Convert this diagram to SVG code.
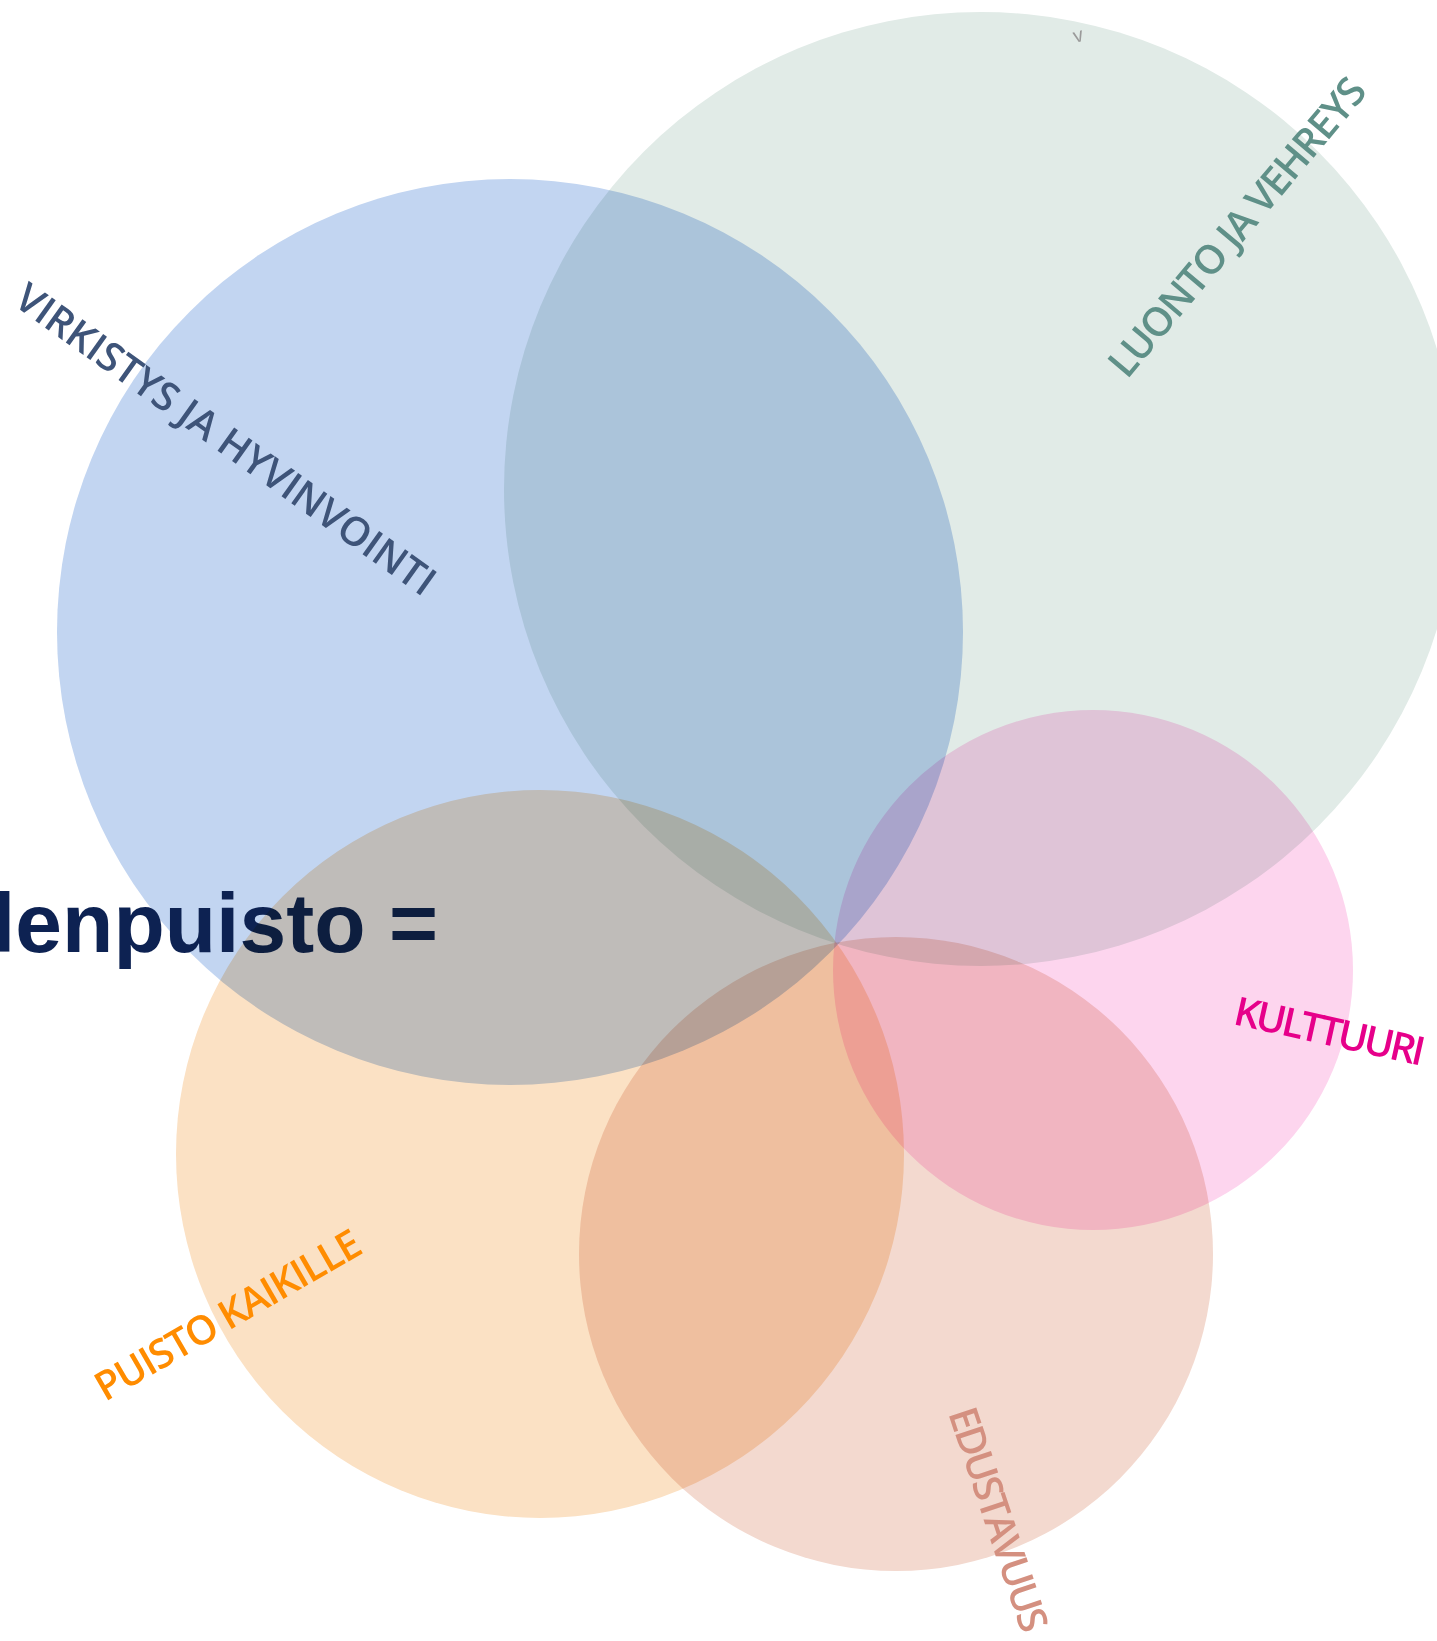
<svg xmlns="http://www.w3.org/2000/svg" width="1437" height="1641" viewBox="0 0 1437 1641">
<style>
.c{mix-blend-mode:multiply}
.lbl{font-family:"Open Sans","Liberation Sans",sans-serif;font-weight:600;font-size:40px}
.ttl{font-family:"Liberation Sans",Arial,sans-serif;font-weight:bold;font-size:84px;fill:#0d2252}
</style>
<rect width="1437" height="1641" fill="#ffffff"/>
<g id="circle-luonto"><circle class="c" cx="981" cy="489" r="477" fill="#e1ebe7"/></g>
<g id="circle-virkistys"><circle class="c" cx="510" cy="632" r="453" fill="#c2d5f1"/></g>
<g id="title"><text class="ttl" x="-8" y="952" textLength="446" lengthAdjust="spacing">lenpuisto =</text></g>
<g id="circle-puisto"><circle class="c" cx="540" cy="1154" r="364" fill="#fbe1c4"/></g>
<g id="circle-edustavuus"><circle class="c" cx="896" cy="1254" r="317" fill="#f3d9cf"/></g>
<g id="circle-kulttuuri"><circle class="c" cx="1093" cy="970" r="260" fill="#fdd5ee"/></g>
<g id="labels">
<text class="lbl" fill="#3e5479" transform="translate(12,304) rotate(35.5)" textLength="505" lengthAdjust="spacing">VIRKISTYS JA HYVINVOINTI</text>
<text class="lbl" fill="#5f9088" transform="translate(1127,380) rotate(-50)" textLength="376" lengthAdjust="spacing">LUONTO JA VEHREYS</text>
<text class="lbl" fill="#e6008a" transform="translate(1232,1024) rotate(12.5)" textLength="194" lengthAdjust="spacing">KULTTUURI</text>
<text class="lbl" fill="#ff8c00" transform="translate(105,1402) rotate(-30)" textLength="300" lengthAdjust="spacing">PUISTO KAIKILLE</text>
<text class="lbl" fill="#d49080" transform="translate(948,1413) rotate(71.5)" textLength="234" lengthAdjust="spacing">EDUSTAVUUS</text>
<text font-family="Liberation Sans, sans-serif" font-size="20" fill="#9a9a9a" transform="translate(1075,43) rotate(-15)">v</text>
</g>
</svg>
